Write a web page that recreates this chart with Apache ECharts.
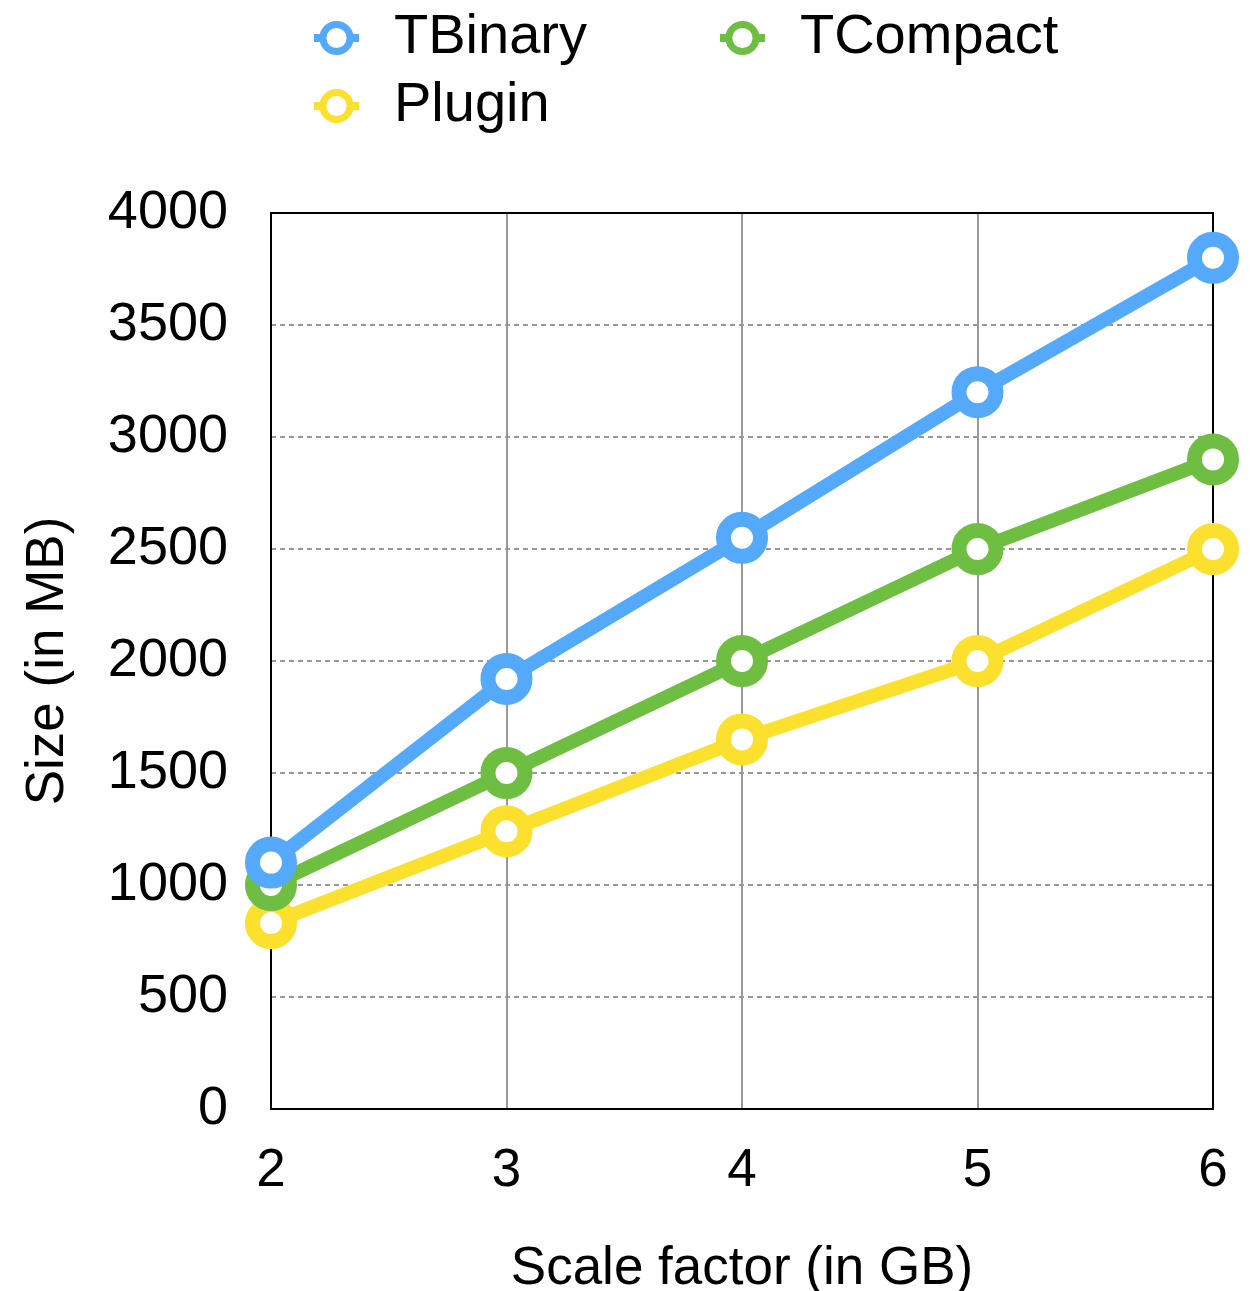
<!DOCTYPE html>
<html>
<head>
<meta charset="utf-8">
<script src="https://cdn.jsdelivr.net/npm/echarts@6/dist/echarts.min.js"></script>
<style>
  html, body { margin: 0; padding: 0; background: #fff; }
  #main { width: 1260px; height: 1291px; }
</style>
</head>
<body>
<div id="main"></div>
<script>
// data
var scaleFactors = [2, 3, 4, 5, 6];
var tbinary  = [1100, 1920, 2550, 3200, 3800];
var tcompact = [1000, 1500, 2000, 2500, 2900];
var plugin   = [830, 1240, 1650, 2000, 2500];

var font = 'Liberation Sans';

function pairs(vals) {
    var out = [];
    for (var i = 0; i < scaleFactors.length; i++) {
        out.push([scaleFactors[i], vals[i]]);
    }
    return out;
}

function lineSeries(name, color, vals, z) {
    return {
        name: name,
        type: 'line',
        z: z,
        data: pairs(vals),
        symbol: 'circle',
        symbolSize: 37,
        lineStyle: { color: color, width: 14 },
        itemStyle: { color: '#fff', borderColor: color, borderWidth: 15 },
        emphasis: { disabled: true },
        animation: false
    };
}

var legendText = {
    fontFamily: font,
    fontSize: 56,
    color: '#000',
    padding: [0, 0, 0, 30]
};

var myChart = echarts.init(document.getElementById('main'));

var option = {
    backgroundColor: '#fff',
    animation: false,
    legend: [
        {
            data: ['TBinary', 'TCompact'],
            left: 305,
            top: 5,
            itemGap: 129,
            itemWidth: 45,
            itemHeight: 34,
            textStyle: legendText,
            lineStyle: { width: 8 },
            itemStyle: { borderWidth: 7 }
        },
        {
            data: ['Plugin'],
            left: 305,
            top: 73,
            itemWidth: 45,
            itemHeight: 34,
            textStyle: legendText,
            lineStyle: { width: 8 },
            itemStyle: { borderWidth: 7 }
        }
    ],
    grid: {
        left: 271,
        right: 47,
        top: 213,
        bottom: 182,
        outerBoundsMode: 'none'
    },
    xAxis: [
        {
            type: 'value',
            min: 2,
            max: 6,
            interval: 1,
            name: 'Scale factor (in GB)',
            nameLocation: 'middle',
            nameGap: 134,
            nameTextStyle: { fontFamily: font, fontSize: 53, color: '#000' },
            axisLine: { show: true, lineStyle: { color: '#000', width: 2 } },
            axisTick: { show: false },
            axisLabel: { fontFamily: font, fontSize: 53, color: '#000', margin: 36 },
            splitLine: { show: true, lineStyle: { color: '#999', width: 2, type: 'solid' } }
        },
        {
            // top frame edge
            type: 'value',
            position: 'top',
            z: 3,
            min: 2,
            max: 6,
            interval: 1,
            axisLine: { show: true, onZero: false, lineStyle: { color: '#000', width: 2 } },
            axisTick: { show: false },
            axisLabel: { show: false },
            splitLine: { show: false }
        }
    ],
    yAxis: [
        {
            type: 'value',
            min: 0,
            max: 4000,
            interval: 500,
            name: 'Size (in MB)',
            nameLocation: 'middle',
            nameGap: 196,
            nameTextStyle: { fontFamily: font, fontSize: 53, color: '#000' },
            axisLine: { show: true, lineStyle: { color: '#000', width: 2 } },
            axisTick: { show: false },
            axisLabel: {
                fontFamily: font, fontSize: 54, color: '#000', margin: 43,
                padding: [8, 0, 0, 0],
                formatter: function (v) { return String(v); }
            },
            splitLine: { show: true, lineStyle: { color: '#999', width: 2, type: [5, 4] } }
        },
        {
            // right frame edge
            type: 'value',
            position: 'right',
            z: 3,
            min: 0,
            max: 4000,
            interval: 500,
            axisLine: { show: true, onZero: false, lineStyle: { color: '#000', width: 2 } },
            axisTick: { show: false },
            axisLabel: { show: false },
            splitLine: { show: false }
        }
    ],
    series: [
        lineSeries('Plugin', '#FBE02E', plugin, 4),
        lineSeries('TCompact', '#6EBE42', tcompact, 5),
        lineSeries('TBinary', '#54A9FA', tbinary, 6)
    ]
};

myChart.setOption(option);
</script>
</body>
</html>
